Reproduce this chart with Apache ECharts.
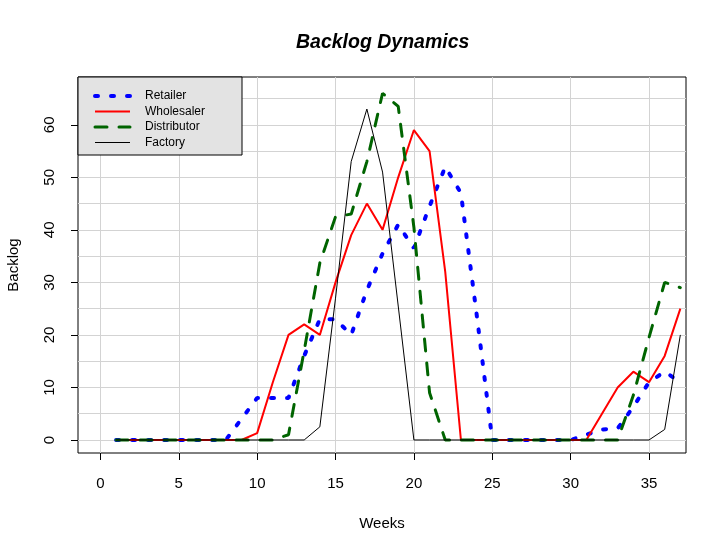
<!DOCTYPE html>
<html>
<head>
<meta charset="utf-8">
<script src="https://cdn.jsdelivr.net/npm/echarts@6/dist/echarts.min.js"></script>
<style>html,body{margin:0;padding:0;background:#fff;}#c{width:728px;height:552px;}</style>
</head>
<body>
<div id="c"></div>
<script>
const weeks = [1,2,3,4,5,6,7,8,9,10,11,12,13,14,15,16,17,18,19,20,21,22,23,24,25,26,27,28,29,30,31,32,33,34,35,36,37];
const retailer    = [0,0,0,0,0,0,0,0,4,8,8,8,16,23,23,20,28.5,35.5,41,36.5,44.5,52,47,24,0,0,0,0,0,0,1,2,2.2,6.3,11,13,11];
const wholesaler  = [0,0,0,0,0,0,0,0,0,1.3,11,20,22,20,30,39,45,40,50,59,55,32,0,0,0,0,0,0,0,0,0,5,10,13,11,16,25];
const distributor = [0,0,0,0,0,0,0,0,0,0,0,1,17,33.7,42.5,43,53,66,63.5,40.5,9,0,0,0,0,0,0,0,0,0,0,0,0,8.5,19.5,30,29];
const factory     = [0,0,0,0,0,0,0,0,0,0,0,0,0,2.5,27,53,63,51,25.5,0,0,0,0,0,0,0,0,0,0,0,0,0,0,0,0,2,20];
const xTicks = [0,5,10,15,20,25,30,35];
const yTicks = [0,10,20,30,40,50,60];
const yGrid  = [0,5,10,15,20,25,30,35,40,45,50,55,60,65];
const seriesNames = ['Retailer','Wholesaler','Distributor','Factory'];

const FONT = 'Liberation Sans, Arial, sans-serif';
const pair = arr => weeks.map((w,i)=>[w, arr[i]]);

const styles = [
  {color: '#0000ff', width: 4, type: [3,13], cap: 'round'},
  {color: '#ff0000', width: 2, type: 'solid', cap: 'butt'},
  {color: '#006400', width: 3, type: [12,12], cap: 'round'},
  {color: '#000000', width: 1, type: 'solid', cap: 'butt'}
];
const seriesData = [retailer, wholesaler, distributor, factory];

const chart = echarts.init(document.getElementById('c'), null, {renderer:'canvas'});
chart.setOption({
  animation: false,
  backgroundColor: '#ffffff',
  title: {
    text: 'Backlog Dynamics',
    left: 296, top: 33, padding: 0,
    textStyle: {fontFamily: FONT, fontSize: 19.5, fontWeight: 'bold', fontStyle: 'italic', color: '#000'}
  },
  grid: {left: 78, top: 77, width: 608, height: 376, show: true, borderColor: '#000', borderWidth: 1,
         backgroundColor: 'transparent', containLabel: false, outerBoundsMode: 'none'},
  xAxis: {
    type: 'value', min: -1.43, max: 37.36, position: 'bottom',
    name: 'Weeks', nameLocation: 'middle', nameGap: 63,
    nameTextStyle: {fontFamily: FONT, fontSize: 15, color: '#000'},
    axisLine: {show: false, onZero: false},
    axisTick: {show: true, inside: false, length: 7, customValues: xTicks, lineStyle: {color: '#000'}},
    axisLabel: {customValues: xTicks, margin: 23, fontFamily: FONT, fontSize: 15, color: '#000'},
    splitLine: {show: true, lineStyle: {color: '#d3d3d3', width: 1}}
  },
  yAxis: [{
    type: 'value', min: -2.48, max: 69.1, position: 'left',
    name: 'Backlog', nameLocation: 'middle', nameGap: 56.5, nameRotate: 90,
    nameTextStyle: {fontFamily: FONT, fontSize: 15, color: '#000'},
    axisLine: {show: false, onZero: false},
    axisTick: {show: true, length: 7, customValues: yTicks, lineStyle: {color: '#000'}},
    axisLabel: {customValues: yTicks, rotate: 90, margin: 21, fontFamily: FONT, fontSize: 15, color: '#000'},
    splitLine: {show: false}
  },{
    type: 'value', min: -2.48, max: 69.1, position: 'left',
    axisLine: {show: false, onZero: false},
    axisTick: {show: false, customValues: yGrid},
    axisLabel: {show: false},
    splitLine: {show: true, lineStyle: {color: '#d3d3d3', width: 1}}
  }],
  graphic: [{
    type: 'rect', z: 50,
    shape: {x: 78, y: 77, width: 164, height: 78},
    style: {fill: '#e3e3e3', stroke: '#000', lineWidth: 1}
  }],
  legend: {
    z: 60, left: 93, top: 90, orient: 'vertical', padding: 0,
    itemWidth: 35, itemHeight: 14, itemGap: 3.5, selectedMode: false,
    itemStyle: {opacity: 0},
    data: seriesNames.map((n, i) => ({name: n, lineStyle: styles[i]})),
    textStyle: {fontFamily: FONT, fontSize: 12, color: '#000', padding: [0,0,0,10]}
  },
  series: seriesNames.map((n, i) => ({
    name: n, type: 'line', data: pair(seriesData[i]), showSymbol: false, symbol: 'none',
    lineStyle: styles[i], itemStyle: {color: styles[i].color}
  }))
});
</script>
</body>
</html>
